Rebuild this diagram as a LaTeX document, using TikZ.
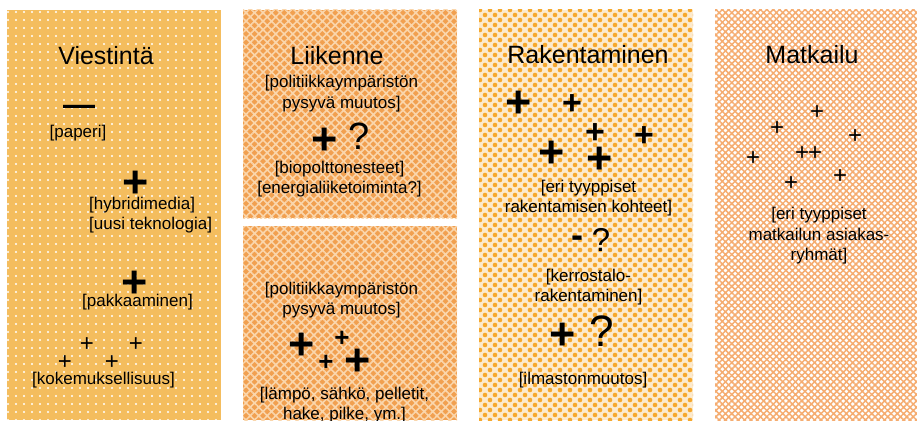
\documentclass[tikz,border=0pt]{standalone}
\usepackage{fontspec}
\setmainfont{Liberation Sans}
\usetikzlibrary{patterns.meta}
\definecolor{sunorange}{RGB}{244,189,94}
\definecolor{deeporange}{RGB}{241,160,80}
\definecolor{paleorange}{RGB}{250,214,172}
\definecolor{dotorange}{RGB}{246,168,45}
\definecolor{cream}{RGB}{252,234,205}
\definecolor{checkorange}{RGB}{245,172,112}
\tikzset{
  title/.style={font=\fontsize{25}{30}\selectfont,inner sep=0pt},
  note/.style={font=\fontsize{17}{20.5}\selectfont,align=center,inner sep=0pt},
  bigplus/.style={font=\bfseries\fontsize{45}{45}\selectfont,inner sep=0pt,yshift=-2.5pt},
  midplus/.style={font=\bfseries\fontsize{34}{34}\selectfont,inner sep=0pt,yshift=-2pt},
  smallplus/.style={font=\fontsize{24}{24}\selectfont,inner sep=0pt,yshift=-1.4pt},
  query/.style={font=\fontsize{#1}{#1}\selectfont,inner sep=0pt}
}

\begin{document}
\begin{tikzpicture}[x=1pt,y=-1pt]
  \useasboundingbox (0,0) rectangle (917,420);

  % backgrounds
  \fill[sunorange] (7,10) rectangle (221,420);
  \fill[pattern={Dots[distance=8pt,radius=1.1pt]},pattern color=white] (7,10) rectangle (221,420);
  \fill[deeporange] (243,10) rectangle (457,218);
  \fill[pattern={Hatch[distance=6pt,angle=45,line width=1.6pt]},pattern color=paleorange] (243,10) rectangle (457,218);
  \fill[deeporange] (243,226) rectangle (457,420);
  \fill[pattern={Hatch[distance=6pt,angle=45,line width=1.6pt]},pattern color=paleorange] (243,226) rectangle (457,420);
  \fill[cream] (479,10) rectangle (693,420);
  \fill[pattern={Dots[distance=10pt,radius=2.3pt]},pattern color=dotorange] (479,10) rectangle (693,420);
  \fill[pattern={Dots[distance=10pt,radius=2.3pt,xshift=5pt,yshift=5pt]},pattern color=dotorange] (479,10) rectangle (693,420);
  \fill[white] (715,10) rectangle (917,420);
  \fill[pattern={Hatch[distance=4.5pt,angle=45,line width=1.5pt]},pattern color=checkorange] (715,10) rectangle (917,420);

  % Viestinta
  \node[title] (viest) at (106,56) {Viestintä};
  \node[font=\bfseries\fontsize{32}{32}\selectfont,inner sep=0pt] (viestminus) at (79,110) {—};
  \node[note] (paperi) at (78,133.5) {[paperi]};
  \node[bigplus] (viestplusa) at (136,182) {+};
  \node[note,align=left,anchor=west] (hybridi) at (89,215) {[hybridimedia]\\{[uusi teknologia]}};
  \node[bigplus] (viestplusb) at (135,282) {+};
  \node[note] (pakkaus) at (137.5,302) {[pakkaaminen]};
  \node[smallplus] (kokplusa) at (87,343) {+};
  \node[smallplus] (kokplusb) at (136,343) {+};
  \node[smallplus] (kokplusc) at (65,361) {+};
  \node[smallplus] (kokplusd) at (112,361) {+};
  \node[note] (kokemus) at (103.5,380) {[kokemuksellisuus]};

  % Liikenne
  \node[title] (liik) at (337,55.5) {Liikenne};
  \node[note] (politiikka) at (341.5,93.5) {[politiikkaympäristön\\pysyvä muutos]};
  \node[bigplus] (liikplus) at (325,139) {+};
  \node[query=38] (liikquery) at (359,136) {?};
  \node[note] (bio) at (339.5,179) {[biopolttonesteet]\\{[energialiiketoiminta?]}};

  \node[note] (politiikkab) at (341.5,300) {[politiikkaympäristön\\pysyvä muutos]};
  \node[bigplus] (energplusa) at (302,344) {+};
  \node[smallplus,font=\bfseries\fontsize{26}{26}\selectfont] (energplusb) at (342,337) {+};
  \node[smallplus,font=\bfseries\fontsize{26}{26}\selectfont] (energplusc) at (326,361) {+};
  \node[bigplus] (energplusd) at (358,360) {+};
  \node[note] (lampo) at (344.5,405) {[lämpö, sähkö, pelletit,\\hake, pilke, ym.]};

  % Rakentaminen
  \node[title] (rak) at (588,55) {Rakentaminen};
  \node[bigplus] (rakplusa) at (519,102) {+};
  \node[midplus] (rakplusb) at (572,103) {+};
  \node[midplus] (rakplusc) at (595,132) {+};
  \node[midplus] (rakplusd) at (644,135) {+};
  \node[bigplus] (rakpluse) at (552,152) {+};
  \node[bigplus] (rakplusf) at (600,158) {+};
  \node[note] (kohteet) at (588.5,198) {[eri tyyppiset\\rakentamisen kohteet]};
  \node[font=\bfseries\fontsize{36}{36}\selectfont,inner sep=0pt] (rakminus) at (577,242) {-};
  \node[query=33] (rakquerya) at (601,240) {?};
  \node[note] (kerrostalo) at (588.5,287) {[kerrostalo-\\rakentaminen]};
  \node[bigplus] (ilmaplus) at (563,334) {+};
  \node[query=44] (rakqueryb) at (602,331) {?};
  \node[note] (ilmasto) at (583,380) {[ilmastonmuutos]};

  % Matkailu
  \node[title] (matk) at (812,55) {Matkailu};
  \node[smallplus] (matkplusa) at (817,111) {+};
  \node[smallplus] (matkplusb) at (777,127) {+};
  \node[smallplus] (matkplusc) at (855,135) {+};
  \node[smallplus] (matkplusd) at (753,157) {+};
  \node[smallplus] (matkpluse) at (802,152) {+};
  \node[smallplus] (matkplusf) at (815,152) {+};
  \node[smallplus] (matkplusg) at (840,175) {+};
  \node[smallplus] (matkplush) at (791,182) {+};
  \node[note] (asiakkaat) at (819,236) {[eri tyyppiset\\matkailun asiakas-\\ryhmät]};
\end{tikzpicture}
\end{document}
